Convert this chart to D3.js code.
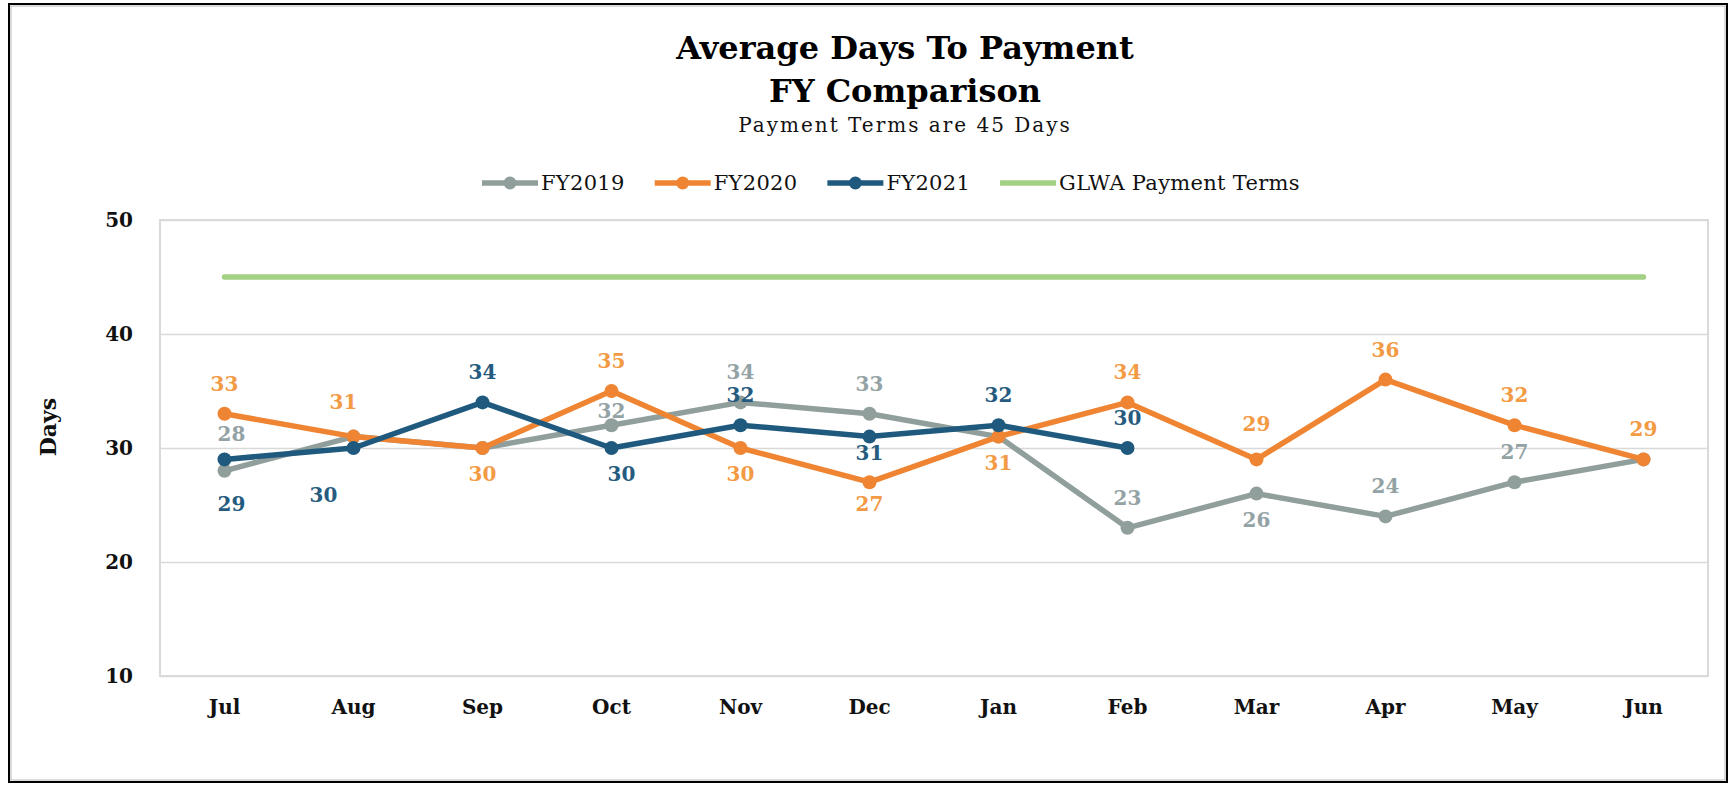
<!DOCTYPE html>
<html lang="en">
<head>
<meta charset="UTF-8">
<title>Average Days To Payment</title>
<script src="https://cdnjs.cloudflare.com/ajax/libs/d3/7.8.5/d3.min.js"></script>
<style>
	body { margin: 0; background: #fff; }
	text { font-family: "DejaVu Serif", serif; }
</style>
</head>
<body>
<div id="chart"></div>
<script>
	/* data */
	var months = ["Jul", "Aug", "Sep", "Oct", "Nov", "Dec", "Jan", "Feb", "Mar", "Apr", "May", "Jun"];
	var fy2019 = [28, 31, 30, 32, 34, 33, 31, 23, 26, 24, 27, 29];
	var fy2020 = [33, 31, 30, 35, 30, 27, 31, 34, 29, 36, 32, 29];
	var fy2021 = [29, 30, 34, 30, 32, 31, 32, 30];
	var paymentTerms = [45, 45, 45, 45, 45, 45, 45, 45, 45, 45, 45, 45];
	var yTicks = [10, 20, 30, 40, 50];

	/* where Excel put each data label: t = above, b = below, "" = hidden */
	var fy2019Labels = ["t", "", "", "t", "t", "t", "", "t", "b", "t", "t", ""];
	var fy2020Labels = ["t", "t", "b", "t", "b", "b", "b", "t", "t", "t", "t", "t"];
	var fy2021Labels = ["b", "b", "t", "b", "t", "b", "t", "t"];
	/* a few labels were moved by hand in the original */
	var labelNudge = {
		"FY2019-0": [7, -7], "FY2019-3": [0, 16],
		"FY2020-1": [-10, -5], "FY2020-5": [0, -4], "FY2020-8": [0, -5],
		"FY2021-0": [7, 19], "FY2021-1": [-30, 21], "FY2021-3": [10, 0], "FY2021-5": [0, -10]
	};

	var series = [
		{ name: "FY2019", values: fy2019, labels: fy2019Labels, color: "#909f9c", labelColor: "#93a2a4" },
		{ name: "FY2020", values: fy2020, labels: fy2020Labels, color: "#ef8532", labelColor: "#f39a45" },
		{ name: "FY2021", values: fy2021, labels: fy2021Labels, color: "#1f5a7e", labelColor: "#265b80" }
	];
	var terms = { name: "GLWA Payment Terms", values: paymentTerms, color: "#a3d184" };

	var w = 1735, h = 785;
	var plot = { left: 160, right: 1708, top: 220, bottom: 676 };

	var svg = d3.select("#chart").append("svg")
		.attr("width", w).attr("height", h);

	/* outer frame */
	svg.append("rect").attr("x", 9).attr("y", 4).attr("width", 1718).attr("height", 778)
		.attr("fill", "none").attr("stroke", "#000").attr("stroke-width", 2);
	svg.append("rect").attr("x", 11).attr("y", 6).attr("width", 1714).attr("height", 774)
		.attr("fill", "none").attr("stroke", "#b8b8b8").attr("stroke-width", 1);

	var x = d3.scaleBand().domain(months).range([plot.left, plot.right]);
	var y = d3.scaleLinear().domain([10, 50]).range([plot.bottom, plot.top]);
	var cx = function(i) { return x(months[i]) + x.bandwidth() / 2; };

	/* plot area */
	svg.append("rect")
		.attr("x", plot.left).attr("y", plot.top)
		.attr("width", plot.right - plot.left).attr("height", plot.bottom - plot.top)
		.attr("fill", "none").attr("stroke", "#dadada").attr("stroke-width", 2);

	var yAxis = d3.axisLeft(y).tickValues(yTicks).tickSize(-(plot.right - plot.left)).tickPadding(27);
	var yg = svg.append("g").attr("transform", "translate(" + plot.left + ",0)").call(yAxis);
	yg.select(".domain").remove();
	yg.selectAll(".tick line").attr("stroke", "#d9d9d9").attr("stroke-width", 1.5);
	yg.selectAll(".tick text").attr("font-family", "DejaVu Serif").attr("font-weight", "bold")
		.attr("font-size", "20px").attr("fill", "#111");

	var xAxis = d3.axisBottom(x).tickSize(0).tickPadding(24);
	var xg = svg.append("g").attr("transform", "translate(0," + plot.bottom + ")").call(xAxis);
	xg.select(".domain").remove();
	xg.selectAll(".tick text").attr("font-family", "DejaVu Serif").attr("font-weight", "bold")
		.attr("font-size", "20px").attr("fill", "#111");

	svg.append("text").attr("transform", "translate(56,427) rotate(-90)")
		.attr("text-anchor", "middle").attr("font-weight", "bold").attr("font-size", "22px")
		.attr("fill", "#111").text("Days");

	/* titles */
	svg.append("text").attr("x", 905).attr("y", 59).attr("text-anchor", "middle")
		.attr("font-weight", "bold").attr("font-size", "32px").attr("fill", "#000")
		.text("Average Days To Payment");
	svg.append("text").attr("x", 905).attr("y", 102).attr("text-anchor", "middle")
		.attr("font-weight", "bold").attr("font-size", "32px").attr("fill", "#000")
		.text("FY Comparison");
	svg.append("text").attr("x", 905).attr("y", 132).attr("text-anchor", "middle")
		.attr("font-size", "20px").attr("letter-spacing", "2px").attr("fill", "#111")
		.text("Payment Terms are 45 Days");

	/* lines */
	var line = d3.line().x(function(d, i) { return cx(i); }).y(function(d) { return y(d); });

	svg.append("path").datum(terms.values).attr("d", line)
		.attr("fill", "none").attr("stroke", terms.color).attr("stroke-width", 5.5)
		.attr("stroke-linecap", "round");

	series.forEach(function(s) {
		svg.append("path").datum(s.values).attr("d", line)
			.attr("fill", "none").attr("stroke", s.color).attr("stroke-width", 5.5)
			.attr("stroke-linejoin", "round");
		svg.selectAll(".dot-" + s.name).data(s.values).enter().append("circle")
			.attr("cx", function(d, i) { return cx(i); })
			.attr("cy", function(d) { return y(d); })
			.attr("r", 7).attr("fill", s.color);
	});

	/* data labels on top */
	series.forEach(function(s) {
		s.values.forEach(function(v, i) {
			var pos = s.labels[i];
			if (!pos) return;
			var n = labelNudge[s.name + "-" + i] || [0, 0];
			var ly = y(v) + (pos === "t" ? -30 : 26) + n[1] + 7;
			svg.append("text").attr("x", cx(i) + n[0]).attr("y", ly)
				.attr("text-anchor", "middle").attr("font-weight", "bold").attr("font-size", "20px")
				.attr("fill", s.labelColor).text(v);
		});
	});

	/* legend */
	var legendItems = series.concat([terms]);
	var lx = 482, legY = 183;
	legendItems.forEach(function(s) {
		var g = svg.append("g");
		g.append("line").attr("x1", lx).attr("x2", lx + 56).attr("y1", legY).attr("y2", legY)
			.attr("stroke", s.color).attr("stroke-width", 5.5);
		if (s !== terms) {
			g.append("circle").attr("cx", lx + 28).attr("cy", legY).attr("r", 6.5).attr("fill", s.color);
		}
		var t = g.append("text").attr("x", lx + 59).attr("y", legY + 7)
			.attr("font-size", "21px").attr("letter-spacing", "0.3px").attr("fill", "#111").text(s.name);
		lx = lx + 59 + t.node().getComputedTextLength() + 30;
	});
</script>
</body>
</html>
